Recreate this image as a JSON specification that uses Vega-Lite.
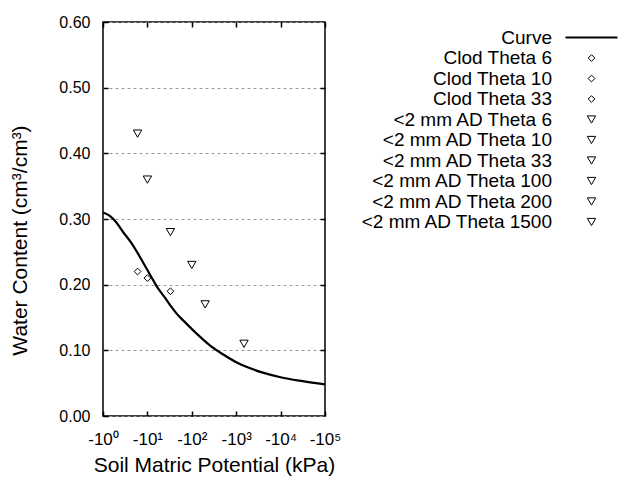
{
  "$schema": "https://vega.github.io/schema/vega-lite/v6.json",
  "width": 222,
  "height": 394,
  "autosize": {"type": "none"},
  "padding": {"left": 103, "top": 22, "right": 315, "bottom": 64},
  "background": "white",
  "config": {
    "font": "Liberation Sans",
    "view": {"stroke": "black", "strokeWidth": 1.5},
    "axis": {"labelColor": "black", "titleColor": "black", "domainColor": "black", "tickColor": "black", "labelFont": "Liberation Sans", "titleFont": "Liberation Sans", "titleFontWeight": "normal"}
  },
  "datasets": {
    "curve": [
      {"kPa": 1, "theta": 0.31},
      {"kPa": 1.4, "theta": 0.305},
      {"kPa": 1.98, "theta": 0.295},
      {"kPa": 2.78, "theta": 0.281},
      {"kPa": 4.3, "theta": 0.264},
      {"kPa": 6.05, "theta": 0.248},
      {"kPa": 8.6, "theta": 0.23},
      {"kPa": 12.2, "theta": 0.212},
      {"kPa": 17.1, "theta": 0.195},
      {"kPa": 24.3, "theta": 0.181},
      {"kPa": 31.6, "theta": 0.17},
      {"kPa": 48.3, "theta": 0.154},
      {"kPa": 63.1, "theta": 0.146},
      {"kPa": 126, "theta": 0.126},
      {"kPa": 251, "theta": 0.108},
      {"kPa": 501, "theta": 0.094},
      {"kPa": 1000, "theta": 0.082},
      {"kPa": 1995, "theta": 0.073},
      {"kPa": 3981, "theta": 0.066},
      {"kPa": 10000, "theta": 0.059},
      {"kPa": 31623, "theta": 0.053},
      {"kPa": 100000, "theta": 0.048}
    ],
    "points": [
      {"series": "Clod Theta 6", "kPa": 6, "theta": 0.22},
      {"series": "Clod Theta 10", "kPa": 10, "theta": 0.21},
      {"series": "Clod Theta 33", "kPa": 33, "theta": 0.19},
      {"series": "<2 mm AD Theta 6", "kPa": 6, "theta": 0.43},
      {"series": "<2 mm AD Theta 10", "kPa": 10, "theta": 0.36},
      {"series": "<2 mm AD Theta 33", "kPa": 33, "theta": 0.28},
      {"series": "<2 mm AD Theta 100", "kPa": 100, "theta": 0.23},
      {"series": "<2 mm AD Theta 200", "kPa": 200, "theta": 0.17},
      {"series": "<2 mm AD Theta 1500", "kPa": 1500, "theta": 0.11}
    ]
  },
  "layer": [
    {
      "data": {"name": "curve"},
      "mark": {"type": "line", "color": "black", "strokeWidth": 2.2, "clip": true, "interpolate": "monotone"},
      "encoding": {
        "x": {"field": "kPa", "type": "quantitative",
          "scale": {"type": "log", "domain": [1, 100000], "nice": false},
          "axis": {"orient": "bottom", "values": [1, 10, 100, 1000, 10000, 100000], "tickSize": -5, "tickWidth": 1.5, "domain": false, "grid": false,
            "labelExpr": "'-10' + ['⁰','¹','²','³','⁴','⁵'][round(log(datum.value)/LN10)]",
            "labelFontSize": 17, "labelPadding": 20, "labelFlush": false,
            "title": "Soil Matric Potential (kPa)", "titleFontSize": 21, "titlePadding": 7}},
        "y": {"field": "theta", "type": "quantitative",
          "scale": {"domain": [0, 0.6], "nice": false, "zero": true},
          "axis": {"orient": "left", "values": [0, 0.1, 0.2, 0.3, 0.4, 0.5, 0.6], "format": ".2f", "tickSize": -5, "tickWidth": 1.5, "domain": false,
            "grid": true, "gridDash": [3, 3], "gridColor": "#999999", "gridWidth": 1,
            "labelFontSize": 16, "labelPadding": 18, "labelFlush": false,
            "title": "Water Content (cm³/cm³)", "titleFontSize": 21, "titlePadding": 28, "titleY": 218}}
      }
    },
    {
      "data": {"name": "points"},
      "mark": {"type": "point", "filled": false, "color": "black", "opacity": 1},
      "encoding": {
        "x": {"field": "kPa", "type": "quantitative",
          "axis": {"orient": "top", "values": [1, 10, 100, 1000, 10000, 100000], "tickSize": -5, "tickWidth": 1.5, "domain": false, "labels": false, "grid": false, "title": null}},
        "y": {"field": "theta", "type": "quantitative",
          "axis": {"orient": "right", "values": [0.1, 0.2, 0.3, 0.4, 0.5], "tickSize": -5, "tickWidth": 1.5, "domain": false, "labels": false, "grid": false, "title": null}},
        "shape": {"field": "series", "type": "nominal",
          "scale": {"domain": ["Curve", "Clod Theta 6", "Clod Theta 10", "Clod Theta 33", "<2 mm AD Theta 6", "<2 mm AD Theta 10", "<2 mm AD Theta 33", "<2 mm AD Theta 100", "<2 mm AD Theta 200", "<2 mm AD Theta 1500"],
            "range": ["stroke", "diamond", "diamond", "diamond", "triangle-down", "triangle-down", "triangle-down", "triangle-down", "triangle-down", "triangle-down"]},
          "legend": {"orient": "none", "legendX": 461, "legendY": -12, "title": null, "labelAlign": "right", "labelOffset": -67, "labelFontSize": 19, "labelFont": "Liberation Sans", "labelColor": "black", "labelLimit": 400, "rowPadding": 0.5, "symbolStrokeColor": "black", "symbolFillColor": "white"}},
        "size": {"field": "series", "type": "nominal",
          "scale": {"type": "ordinal", "domain": ["Curve", "Clod Theta 6", "Clod Theta 10", "Clod Theta 33", "<2 mm AD Theta 6", "<2 mm AD Theta 10", "<2 mm AD Theta 33", "<2 mm AD Theta 100", "<2 mm AD Theta 200", "<2 mm AD Theta 1500"],
            "range": [2704, 45, 45, 45, 70, 70, 70, 70, 70, 70]}},
        "strokeWidth": {"field": "series", "type": "nominal",
          "scale": {"type": "ordinal", "domain": ["Curve", "Clod Theta 6", "Clod Theta 10", "Clod Theta 33", "<2 mm AD Theta 6", "<2 mm AD Theta 10", "<2 mm AD Theta 33", "<2 mm AD Theta 100", "<2 mm AD Theta 200", "<2 mm AD Theta 1500"],
            "range": [2.2, 1, 1, 1, 1, 1, 1, 1, 1, 1]}}
      }
    }
  ],
  "resolve": {"axis": {"x": "independent", "y": "independent"}}
}
